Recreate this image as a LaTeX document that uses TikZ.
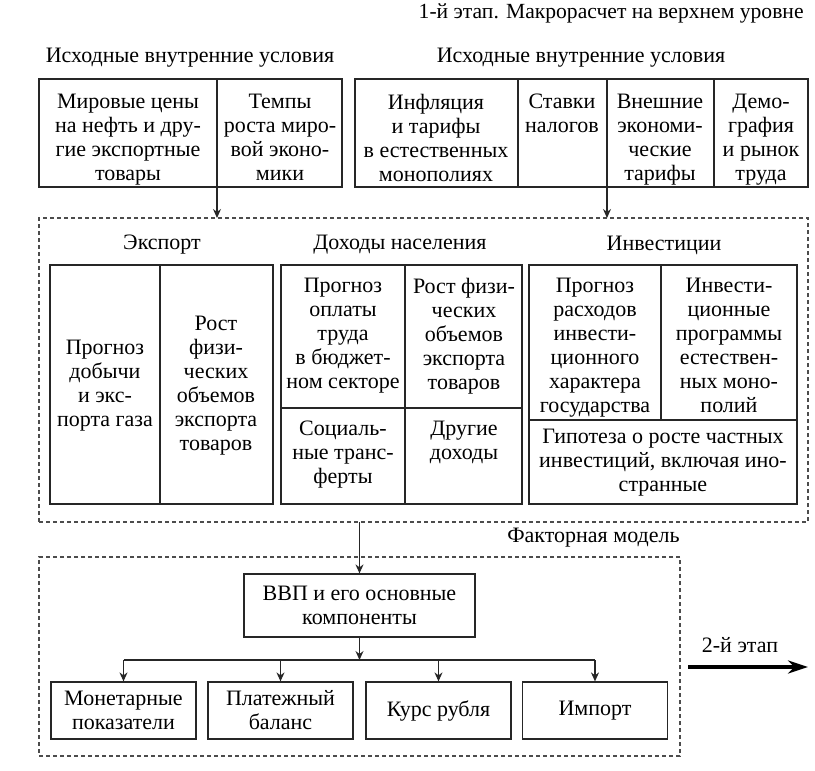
\documentclass[tikz,border=0pt]{standalone}
\usepackage{fontspec}
\setmainfont{Liberation Serif}
\usetikzlibrary{arrows.meta}

\begin{document}
\begin{tikzpicture}[x=0.5pt, y=-0.5pt,
    box/.style={draw=black!85, line width=0.6pt},
    frame/.style={draw=black!70, line width=0.6pt, dash pattern=on 2pt off 1.5pt, outer sep=0pt},
    cell/.style={align=center, inner sep=0pt, font=\rmfamily\fontsize{11}{12}\selectfont},
    arr/.style={draw=black!85, line width=0.6pt, -{Stealth[length=4.5pt, width=4pt]}},
    unit/.style={box, cell, minimum width=72.5pt, minimum height=28.5pt}]
    \useasboundingbox (0,0) rectangle (815,771);
    % Title and headings
    \node[cell, anchor=east, font=\rmfamily\fontsize{10.8}{12}\selectfont] (title) at (804,13) {1-й этап. Макрорасчет на верхнем уровне};
    \node[cell] (headL) at (190,58) {Исходные внутренние условия};
    \node[cell] (headR) at (581,58) {Исходные внутренние условия};
    % Initial conditions, left
    \draw[box] (39,79) rectangle (342,187);
    \draw[box] (217,79) -- (217,187);
    \node[cell, anchor=north] (prices) at (128,93.5) {Мировые цены\\на нефть и дру-\\гие экспортные\\товары};
    \node[cell, anchor=north] (growth) at (280,93.5) {Темпы\\роста миро-\\вой эконо-\\мики};
    % Initial conditions, right
    \draw[box] (355,79) rectangle (808,187);
    \draw[box] (518,79) -- (518,187);
    \draw[box] (607,79) -- (607,187);
    \draw[box] (714,79) -- (714,187);
    \node[cell, anchor=north] (inflation) at (436,93.5) {Инфляция\\и тарифы\\в естественных\\монополиях};
    \node[cell, anchor=north] (taxes) at (562,93.5) {Ставки\\налогов};
    \node[cell, anchor=north] (tariffs) at (660,93.5) {Внешние\\экономи-\\ческие\\тарифы};
    \node[cell, anchor=north] (labour) at (761,93.5) {Демо-\\графия\\и рынок\\труда};
    % Calculation block
    \node[frame, minimum width=384.5pt, minimum height=152pt] (calc) at (423.5,370) {};
    \coordinate (inL) at (217,187);
    \coordinate (inR) at (607,187);
    \draw[arr] (inL) -- (inL |- calc.north);
    \draw[arr] (inR) -- (inR |- calc.north);
    \node[cell] (export) at (162,245) {Экспорт};
    \node[cell] (income) at (400,245) {Доходы населения};
    \node[cell] (invest) at (664,245) {Инвестиции};
    % Export
    \draw[box] (50,265) rectangle (273,504);
    \draw[box] (160,265) -- (160,504);
    \node[cell] (gas) at (105,386) {Прогноз\\добычи\\и экс-\\порта газа};
    \node[cell] (goods) at (216,386) {Рост\\физи-\\ческих\\объемов\\экспорта\\товаров};
    % Income
    \draw[box] (281,265) rectangle (522,504);
    \draw[box] (405,265) -- (405,504);
    \draw[box] (281,408) -- (522,408);
    \node[cell, anchor=north] (wages) at (343,278) {Прогноз\\оплаты\\труда\\в бюджет-\\ном секторе};
    \node[cell, anchor=north] (volumes) at (464,278) {Рост физи-\\ческих\\объемов\\экспорта\\товаров};
    \node[cell, anchor=north] (transfers) at (343,421) {Социаль-\\ные транс-\\ферты};
    \node[cell, anchor=north] (other) at (464,421) {Другие\\доходы};
    % Investment
    \draw[box] (529,265) rectangle (797,504);
    \draw[box] (661,265) -- (661,420);
    \draw[box] (529,420) -- (797,420);
    \node[cell, anchor=north] (state) at (595,278) {Прогноз\\расходов\\инвести-\\ционного\\характера\\государства};
    \node[cell, anchor=north] (monopoly) at (729,278) {Инвести-\\ционные\\программы\\естествен-\\ных моно-\\полий};
    \node[cell] (private) at (663,463) {Гипотеза о росте частных\\инвестиций, включая ино-\\странные};
    % Factor model
    \node[cell, anchor=east] (factorlabel) at (680,538) {Факторная модель};
    \node[frame, minimum width=320.5pt, minimum height=99.5pt] (factor) at (359.5,656.5) {};
    \node[box, cell, minimum width=115.5pt, minimum height=31.5pt] (gdp) at (359.5,605.5) {ВВП и его основные\\компоненты};
    \draw[arr] (calc.south -| gdp.north) -- (gdp.north);
    \node[unit] (money) at (123.5,710.5) {Монетарные\\показатели};
    \node[unit] (balance) at (280.5,710.5) {Платежный\\баланс};
    \node[unit] (rate) at (438.5,710.5) {Курс рубля};
    \node[unit] (import) at (595,710.5) {Импорт};
    \coordinate (split) at (359.5,660);
    \draw[arr] (gdp.south) -- (split);
    \draw[box] (money.north |- split) -- (import.north |- split);
    \foreach \u in {money, balance, rate, import}
        \draw[arr] (\u.north |- split) -- (\u.north);
    % Next stage
    \node[cell] (stage2) at (740,645) {2-й этап};
    \coordinate (s2a) at (688,667);
    \coordinate (s2b) at (808,667);
    \draw[draw=black, line width=2pt, -{Stealth[length=10pt, width=6.5pt]}] (s2a) -- (s2b);
\end{tikzpicture}
\end{document}
